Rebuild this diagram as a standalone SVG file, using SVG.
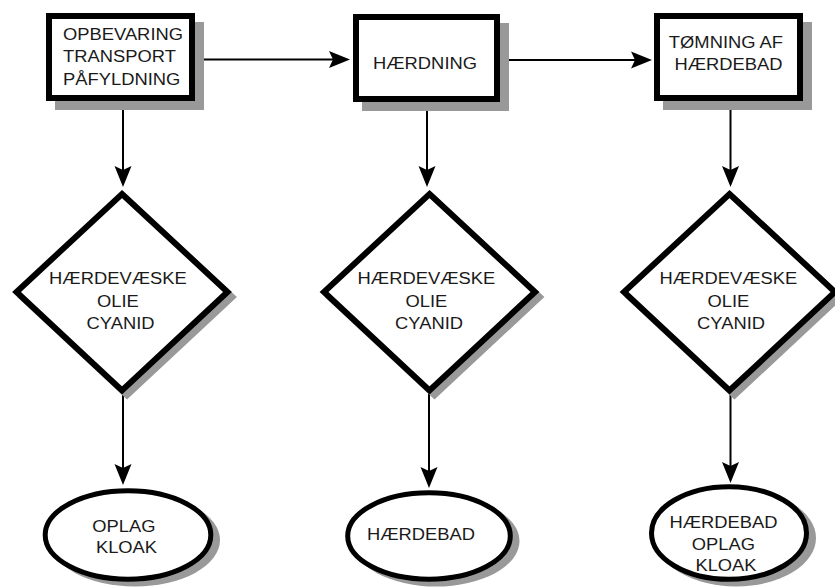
<svg xmlns="http://www.w3.org/2000/svg" width="835" height="588" viewBox="0 0 835 588">
  <style>
    .shape { fill: #ffffff; stroke: #000000; }
    .box { stroke-width: 6; }
    .dia { stroke-width: 6; stroke-linejoin: miter; stroke-miterlimit: 10; }
    .ell { stroke-width: 5; }
    .shadow { fill: #999999; }
    .link { fill: none; stroke: #000000; stroke-width: 2; }
    .lbl { font-family: "Liberation Sans", Arial, sans-serif; font-size: 17px; fill: #1a1a1a; }
    .mid { text-anchor: middle; }
  </style>
  <defs>
    <marker id="arrow" markerUnits="userSpaceOnUse" viewBox="-22 -10 24 20" markerWidth="24" markerHeight="20" refX="-4" refY="0" orient="auto">
      <path d="M0,0 L-21,-8.5 L-17,0 L-21,8.5 Z" fill="#000000"/>
    </marker>
  </defs>

  <!-- connectors -->
  <g id="connectors">
    <line class="link" x1="195" y1="59.5" x2="346" y2="59.5" marker-end="url(#arrow)"/>
    <line class="link" x1="500" y1="60" x2="648" y2="60" marker-end="url(#arrow)"/>
    <line class="link" x1="123" y1="101" x2="123" y2="183" marker-end="url(#arrow)"/>
    <line class="link" x1="427" y1="102" x2="427" y2="183" marker-end="url(#arrow)"/>
    <line class="link" x1="730.5" y1="101" x2="730.5" y2="183" marker-end="url(#arrow)"/>
    <line class="link" x1="123" y1="393" x2="123" y2="481" marker-end="url(#arrow)"/>
    <line class="link" x1="429" y1="394" x2="429" y2="484" marker-end="url(#arrow)"/>
    <line class="link" x1="730.5" y1="394" x2="730.5" y2="479" marker-end="url(#arrow)"/>
  </g>

  <!-- process boxes -->
  <g id="box-opbevaring">
    <rect class="shadow" x="55" y="22" width="149" height="88"/>
    <rect class="shape box" x="49" y="16" width="143" height="82"/>
    <text class="lbl" transform="translate(63 0) scale(1.08 1)">
      <tspan x="0" y="40.5">OPBEVARING</tspan>
      <tspan x="0" y="62.5">TRANSPORT</tspan>
      <tspan x="0" y="85">PÅFYLDNING</tspan>
    </text>
  </g>

  <g id="box-haerdning">
    <rect class="shadow" x="362" y="23" width="147" height="88"/>
    <rect class="shape box" x="356" y="17" width="141" height="82"/>
    <text class="lbl mid" transform="translate(425 0) scale(1.08 1)">
      <tspan x="0" y="69.5">HÆRDNING</tspan>
    </text>
  </g>

  <g id="box-tomning">
    <rect class="shadow" x="663" y="22" width="149" height="88"/>
    <rect class="shape box" x="657" y="16" width="143" height="82"/>
    <text class="lbl mid" transform="translate(728.5 0) scale(1.08 1)">
      <tspan x="0" y="48">TØMNING AF</tspan>
      <tspan x="0" y="70">HÆRDEBAD</tspan>
    </text>
  </g>

  <!-- substance diamonds -->
  <g id="diamond-1">
    <polygon class="shadow" points="127,199 232.5,297 127,395.5 21.5,297" stroke="#999999" stroke-width="6"/>
    <polygon class="shape dia" points="122,194 227.5,292 122,390.5 16.5,292"/>
    <text class="lbl mid" transform="translate(120.5 0) scale(1.08 1)">
      <tspan x="0" y="284.5">HÆRDEVÆSKE</tspan>
      <tspan x="0" y="307">OLIE</tspan>
      <tspan x="0" y="329">CYANID</tspan>
    </text>
  </g>

  <g id="diamond-2">
    <polygon class="shadow" points="434.5,199 540,297 434.5,395.5 329,297" stroke="#999999" stroke-width="6"/>
    <polygon class="shape dia" points="429.5,194 535,292 429.5,390.5 324,292"/>
    <text class="lbl mid" transform="translate(429 0) scale(1.08 1)">
      <tspan x="0" y="284.5">HÆRDEVÆSKE</tspan>
      <tspan x="0" y="307">OLIE</tspan>
      <tspan x="0" y="329">CYANID</tspan>
    </text>
  </g>

  <g id="diamond-3">
    <polygon class="shadow" points="734.5,199 840,297 734.5,395.5 629,297" stroke="#999999" stroke-width="6"/>
    <polygon class="shape dia" points="729.5,194 835,292 729.5,390.5 624,292"/>
    <text class="lbl mid" transform="translate(731 0) scale(1.08 1)">
      <tspan x="0" y="284.5">HÆRDEVÆSKE</tspan>
      <tspan x="0" y="307">OLIE</tspan>
      <tspan x="0" y="329">CYANID</tspan>
    </text>
  </g>

  <!-- destination ellipses -->
  <g id="ellipse-1">
    <ellipse class="shadow" cx="135" cy="540" rx="85" ry="46.5"/>
    <ellipse class="shape ell" cx="128" cy="535" rx="82.8" ry="44.2"/>
    <text class="lbl mid" transform="translate(126.5 0) scale(1.08 1)">
      <tspan x="0" y="531.7">OPLAG</tspan>
      <tspan x="0" y="553.3">KLOAK</tspan>
    </text>
  </g>

  <g id="ellipse-2">
    <ellipse class="shadow" cx="436" cy="541" rx="83.5" ry="45.5"/>
    <ellipse class="shape ell" cx="429" cy="536" rx="81.3" ry="43.2"/>
    <text class="lbl mid" transform="translate(421 0) scale(1.08 1)">
      <tspan x="0" y="540.5">HÆRDEBAD</tspan>
    </text>
  </g>

  <g id="ellipse-3">
    <ellipse class="shadow" cx="736" cy="538" rx="80" ry="48.5"/>
    <ellipse class="shape ell" cx="729" cy="533" rx="77.5" ry="46.3"/>
    <text class="lbl mid" transform="translate(726 0) scale(1.08 1)">
      <tspan x="0" y="528.5">HÆRDEBAD</tspan>
      <tspan x="0" y="550">OPLAG</tspan>
      <tspan x="0" y="571.5">KLOAK</tspan>
    </text>
  </g>
</svg>
